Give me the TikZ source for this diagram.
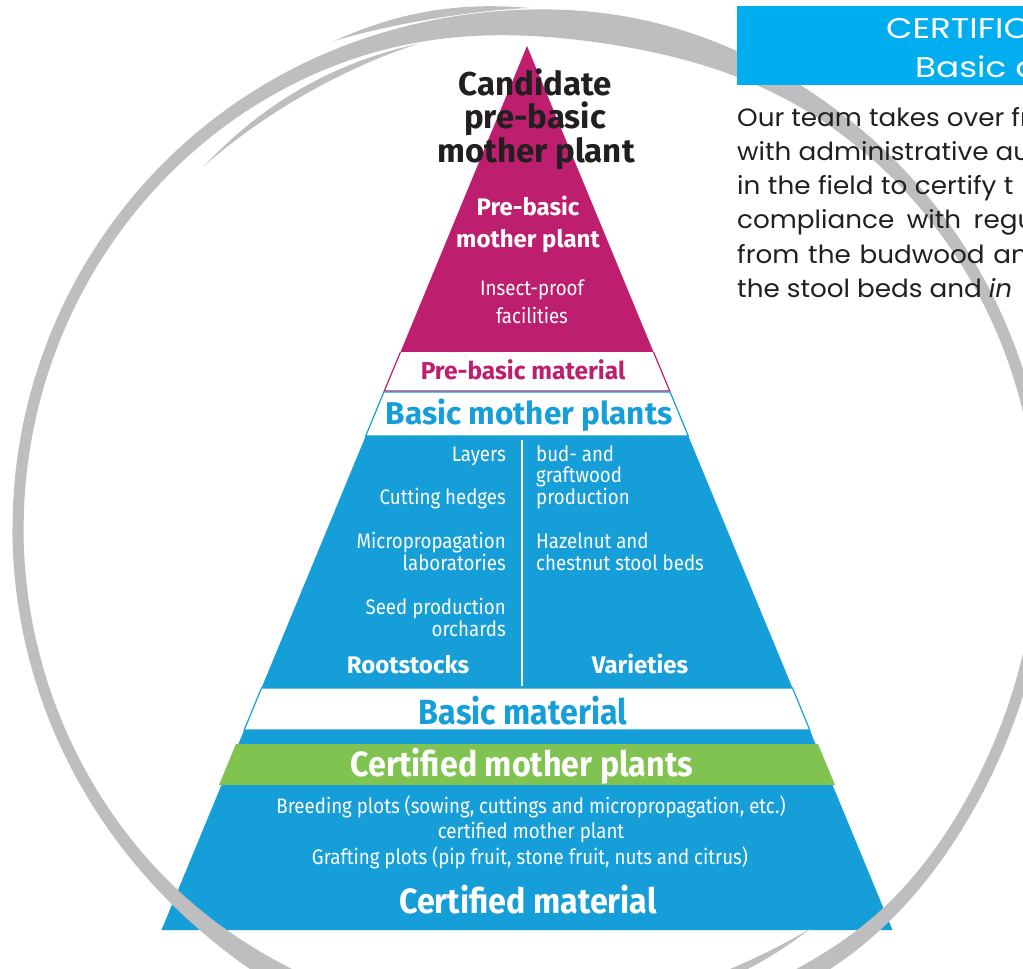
\documentclass[tikz,border=0pt]{standalone}
\usepackage{fontspec}
\setmainfont{Fira Sans}
\newfontfamily\pyrsans{Fira Sans}
\newfontfamily\pyrnarrow[FakeStretch=0.89]{Fira Sans}
\newfontfamily\pyrhead[FakeStretch=0.92]{Fira Sans}
\newfontfamily\boxsans[FakeStretch=1.05]{Poppins}
\newfontfamily\boxtitle[FakeStretch=1.2]{Poppins}

\definecolor{pyrmagenta}{RGB}{190,30,110}
\definecolor{pyrblue}{RGB}{22,158,217}
\definecolor{pyrgreen}{RGB}{128,195,80}
\definecolor{boxcyan}{RGB}{0,174,239}
\definecolor{ringgray}{RGB}{188,190,192}
\definecolor{inkdark}{RGB}{35,31,32}

\tikzset{
  declare function={
    bump(\a,\c,\w)=1/(1+((\a-\c)/\w)*((\a-\c)/\w))/(1+((\a-\c)/\w)*((\a-\c)/\w));
    ringc(\a)=512+14*bump(\a,-50,30)-7*bump(\a,85,35);
    ringt(\a)=11+19*bump(\a,80,30)+12*bump(\a,-115,20)+6*bump(\a,-58,15);
  },
  lbl/.style={inner sep=0pt, anchor=base},
  candtext/.style={lbl, text=inkdark, font=\pyrsans\bfseries\fontsize{33}{33}\selectfont},
  toptext/.style={lbl, text=white, font=\pyrsans\bfseries\fontsize{24}{24}\selectfont},
  smalltext/.style={lbl, text=white, font=\pyrnarrow\fontsize{21}{21}\selectfont},
  bandtext/.style={lbl, font=\pyrsans\bfseries\fontsize{#1}{#1}\selectfont},
  colleft/.style={smalltext, anchor=base east},
  colright/.style={smalltext, anchor=base west},
  headtext/.style={lbl, text=white, font=\pyrsans\bfseries\fontsize{24}{24}\selectfont},
  bigtext/.style={lbl, font=\pyrhead\bfseries\fontsize{35}{35}\selectfont},
  titletext/.style={lbl, anchor=base west, text=white, font=\boxtitle\fontsize{28.5}{28.5}\selectfont},
  para/.style={lbl, anchor=base west, text=inkdark, font=\boxsans\fontsize{25}{25}\selectfont},
}

% tapered brush piece of the ring: (from:to)(radius from:radius to:width)
\def\brushpiece(#1:#2)(#3:#4:#5){%
  \fill[ringgray] plot[domain=#1:#2, samples=40]
    ({530+(#3+(#4-#3)*(\x-(#1))/(#2-(#1))+0.5*#5*sin(180*(\x-(#1))/(#2-(#1))))*cos(\x)},
     {528-(#3+(#4-#3)*(\x-(#1))/(#2-(#1))+0.5*#5*sin(180*(\x-(#1))/(#2-(#1))))*sin(\x)})
    -- plot[domain=#2:#1, samples=40]
    ({530+(#3+(#4-#3)*(\x-(#1))/(#2-(#1))-0.5*#5*sin(180*(\x-(#1))/(#2-(#1))))*cos(\x)},
     {528-(#3+(#4-#3)*(\x-(#1))/(#2-(#1))-0.5*#5*sin(180*(\x-(#1))/(#2-(#1))))*sin(\x)}) -- cycle;}

\begin{document}
\begin{tikzpicture}[x=1pt,y=-1pt]
  \useasboundingbox (0,0) rectangle (1023,969);
  \clip (0,0) rectangle (1023,969);

  %%%%% pyramid layers %%%%%
  \fill[pyrmagenta] (527,46) -- (400.5,352) -- (653.5,352) -- cycle;
  \draw[pyrmagenta, fill=white, line width=1.2] (400.5,352) -- (384.3,391) -- (669.7,391) -- (653.5,352);
  \draw[pyrblue, fill=white, line width=1.2] (383.9,392) -- (365.7,436) -- (688.3,436) -- (670.1,392) -- cycle;
  \fill[pyrblue] (365.7,436) -- (261.5,688) -- (792.5,688) -- (688.3,436) -- cycle;
  \draw[pyrblue, fill=white, line width=1.2] (261.5,688) -- (244.2,730) -- (809.8,730) -- (792.5,688) -- cycle;
  \fill[pyrblue] (244.2,730) -- (161.5,930) -- (892.5,930) -- (809.8,730) -- cycle;
  \fill[pyrgreen] (236,744) -- (219,785) -- (835,785) -- (818,744) -- cycle;
  \draw[white, line width=1.5] (522,440) -- (522,686);

  %%%%% top of pyramid %%%%%
  \node[candtext] (cand1) at (535,95) {Candidate};
  \node[candtext] (cand2) at (535,128) {pre-basic};
  \node[candtext] (cand3) at (536,162) {mother plant};
  \node[toptext] (prebasic1) at (528,215) {Pre-basic};
  \node[toptext] (prebasic2) at (528,247) {mother plant};
  \node[smalltext] (insect1) at (532,295) {Insect-proof};
  \node[smalltext] (insect2) at (532,323) {facilities};
  \node[bandtext=24.5, text=pyrmagenta] (prematerial) at (523,379) {Pre-basic material};
  \node[bandtext=31.5, text=pyrblue] (basicmother) at (529,424) {Basic mother plants};

  %%%%% rootstocks | varieties %%%%%
  \node[colleft] (layers) at (506,461) {Layers};
  \node[colleft] (hedges) at (506,504) {Cutting hedges};
  \node[colleft] (micro1) at (506,548) {Micropropagation};
  \node[colleft] (micro2) at (506,570) {laboratories};
  \node[colleft] (seed1) at (506,614) {Seed production};
  \node[colleft] (seed2) at (506,636) {orchards};
  \node[colright] (bud1) at (536,461) {bud- and};
  \node[colright] (bud2) at (536,482) {graftwood};
  \node[colright] (bud3) at (536,504) {production};
  \node[colright] (hazel1) at (536,548) {Hazelnut and};
  \node[colright] (hazel2) at (536,570) {chestnut stool beds};
  \node[headtext] (rootstocks) at (408,673) {Rootstocks};
  \node[headtext] (varieties) at (640,673) {Varieties};

  %%%%% bottom of pyramid %%%%%
  \node[bigtext, text=pyrblue] (basicmat) at (523,724) {Basic material};
  \node[bigtext, text=white] (certmother) at (522,776) {Certified mother plants};
  \node[smalltext] (breed) at (531,813) {Breeding plots (sowing, cuttings and micropropagation, etc.)};
  \node[smalltext] (certplant) at (531,838) {certified mother plant};
  \node[smalltext] (graft) at (530,864) {Grafting plots (pip fruit, stone fruit, nuts and citrus)};
  \node[bigtext, text=white] (certmat) at (528,913) {Certified material};

  %%%%% brush ring %%%%%
  \fill[ringgray] plot[domain=-180:180, samples=361]
      ({530+(ringc(\x)+0.5*ringt(\x))*cos(\x)}, {528-(ringc(\x)+0.5*ringt(\x))*sin(\x)})
    -- plot[domain=180:-180, samples=361]
      ({530+(ringc(\x)-0.5*ringt(\x))*cos(\x)}, {528-(ringc(\x)-0.5*ringt(\x))*sin(\x)}) -- cycle;
  \brushpiece(90:112)(520:525:8)
  \brushpiece(103:132)(497:487:7)
  \brushpiece(-80:-55)(487:489:8)

  %%%%% side text %%%%%
  \fill[boxcyan] (737,6) rectangle (1030,85);
  \node[titletext] (title1) at (886,38) {CERTIFIC};
  \node[titletext] (title2) at (915,77) {Basic a};
  \foreach \txt [count=\i] in {Our team takes over fr, with administrative au,
      in\hspace{0.3em}the\hspace{0.3em}field\hspace{0.3em}to\hspace{0.3em}certify\hspace{0.3em}t,
      compliance\hspace{0.5em}with\hspace{0.5em}regu,
      from\hspace{0.35em}the\hspace{0.35em}budwood\hspace{0.35em}an, the stool beds and \textit{in}}
    \node[para] (para\i) at (737,{126+34.3*(\i-1)}) {\txt};
\end{tikzpicture}
\end{document}
